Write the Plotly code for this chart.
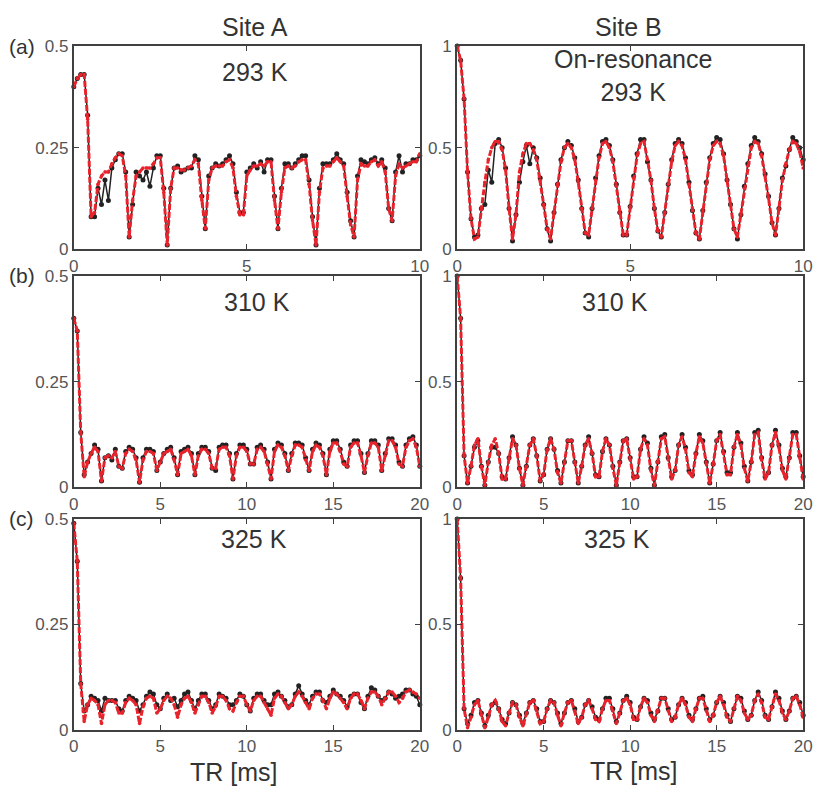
import plotly.graph_objects as go

# ---------------- data ----------------
tr_step_a = 0.1   # ms, row (a)
tr_step_bc = 0.2  # ms, rows (b), (c)

col_titles = ["Site A", "Site B"]
row_labels = ["(a)", "(b)", "(c)"]
temps_left = ["293 K", "310 K", "325 K"]
temps_right = ["On-resonance<br>293 K", "310 K", "325 K"]
x_title = "TR [ms]"

x_ticks_a = [0, 5, 10]
x_ticks_bc = [0, 5, 10, 15, 20]
y_ticks_A = [0, 0.25, 0.5]
y_ticktext_A = ["0", "0.25", "0.5"]
y_ticks_B = [0, 0.5, 1]
y_ticktext_B = ["0", "0.5", "1"]

A_a_meas = [0.40,0.42,0.43,0.43,0.33,0.08,0.08,0.15,0.11,0.17,
            0.12,0.20,0.22,0.235,0.235,0.19,0.03,0.11,0.19,0.18,
            0.17,0.19,0.155,0.20,0.23,0.23,0.15,0.01,0.15,0.20,
            0.205,0.19,0.195,0.20,0.20,0.23,0.22,0.13,0.05,0.18,
            0.20,0.21,0.205,0.21,0.22,0.23,0.21,0.14,0.09,0.09,
            0.19,0.20,0.21,0.20,0.215,0.19,0.22,0.22,0.13,0.05,
            0.15,0.21,0.21,0.20,0.21,0.22,0.23,0.23,0.17,0.08,
            0.01,0.15,0.21,0.21,0.21,0.22,0.235,0.22,0.21,0.14,
            0.07,0.03,0.18,0.22,0.215,0.21,0.22,0.225,0.21,0.22,
            0.20,0.10,0.07,0.19,0.23,0.19,0.21,0.21,0.22,0.22,
            0.23]
A_a_sim = [0.40,0.42,0.43,0.43,0.32,0.08,0.09,0.16,0.18,0.19,
           0.19,0.21,0.225,0.235,0.23,0.18,0.03,0.12,0.18,0.19,
           0.20,0.20,0.20,0.21,0.225,0.225,0.14,0.01,0.15,0.20,
           0.20,0.195,0.195,0.20,0.205,0.22,0.21,0.12,0.05,0.17,
           0.20,0.205,0.205,0.205,0.215,0.22,0.20,0.13,0.085,0.085,
           0.18,0.195,0.205,0.205,0.21,0.205,0.215,0.215,0.12,0.05,
           0.14,0.20,0.205,0.20,0.205,0.215,0.22,0.22,0.16,0.07,
           0.01,0.14,0.20,0.205,0.205,0.215,0.225,0.215,0.205,0.13,
           0.06,0.03,0.17,0.21,0.205,0.205,0.215,0.22,0.205,0.215,
           0.19,0.10,0.07,0.18,0.21,0.20,0.205,0.21,0.215,0.215,
           0.235]

B_a_meas = [1.00,0.93,0.74,0.38,0.15,0.06,0.07,0.20,0.22,0.39,
            0.33,0.52,0.54,0.50,0.40,0.20,0.04,0.17,0.33,0.43,
            0.51,0.42,0.50,0.45,0.35,0.22,0.10,0.04,0.18,0.32,
            0.44,0.50,0.53,0.51,0.45,0.34,0.20,0.08,0.06,0.20,
            0.35,0.46,0.53,0.54,0.51,0.44,0.32,0.18,0.07,0.07,
            0.21,0.36,0.47,0.54,0.54,0.43,0.34,0.20,0.09,0.06,
            0.18,0.32,0.44,0.52,0.54,0.52,0.45,0.33,0.19,0.08,
            0.05,0.19,0.33,0.45,0.52,0.55,0.54,0.47,0.34,0.22,
            0.10,0.05,0.17,0.31,0.42,0.51,0.55,0.53,0.47,0.37,
            0.26,0.13,0.07,0.20,0.35,0.41,0.49,0.55,0.53,0.50,
            0.44]
B_a_sim = [1.00,0.93,0.74,0.38,0.15,0.05,0.06,0.20,0.33,0.44,
           0.50,0.53,0.53,0.49,0.39,0.20,0.05,0.17,0.38,0.47,
           0.52,0.52,0.49,0.44,0.34,0.22,0.10,0.05,0.18,0.32,
           0.43,0.50,0.52,0.50,0.44,0.33,0.20,0.08,0.07,0.20,
           0.34,0.45,0.52,0.53,0.50,0.43,0.31,0.18,0.07,0.07,
           0.21,0.35,0.46,0.52,0.53,0.44,0.34,0.20,0.09,0.06,
           0.18,0.32,0.43,0.51,0.53,0.51,0.44,0.32,0.19,0.08,
           0.05,0.19,0.32,0.44,0.51,0.53,0.52,0.46,0.34,0.22,
           0.10,0.06,0.17,0.30,0.41,0.50,0.53,0.52,0.46,0.36,
           0.25,0.13,0.07,0.20,0.34,0.42,0.49,0.53,0.52,0.48,
           0.40]

A_b_meas = [0.40,0.37,0.13,0.03,0.06,0.08,0.10,0.09,0.015,0.07,
            0.075,0.065,0.09,0.05,0.045,0.085,0.095,0.09,0.07,0.012,
            0.07,0.09,0.09,0.085,0.04,0.06,0.08,0.09,0.095,0.07,
            0.03,0.085,0.09,0.095,0.08,0.03,0.08,0.095,0.095,0.085,
            0.045,0.04,0.095,0.10,0.10,0.08,0.02,0.08,0.10,0.10,
            0.09,0.055,0.055,0.095,0.10,0.09,0.06,0.02,0.09,0.105,
            0.10,0.08,0.04,0.08,0.105,0.105,0.10,0.07,0.04,0.09,
            0.105,0.10,0.08,0.03,0.09,0.11,0.11,0.09,0.06,0.05,
            0.10,0.11,0.11,0.08,0.035,0.08,0.11,0.11,0.10,0.04,
            0.08,0.115,0.115,0.10,0.06,0.05,0.10,0.115,0.12,0.10,
            0.05]
A_b_sim = [0.40,0.37,0.13,0.025,0.06,0.08,0.095,0.085,0.015,0.07,
           0.075,0.07,0.085,0.05,0.045,0.08,0.09,0.085,0.065,0.012,
           0.065,0.085,0.085,0.08,0.04,0.06,0.08,0.085,0.09,0.065,
           0.03,0.08,0.085,0.09,0.075,0.03,0.075,0.09,0.09,0.08,
           0.045,0.045,0.09,0.095,0.095,0.075,0.02,0.075,0.095,0.095,
           0.085,0.055,0.055,0.09,0.095,0.085,0.055,0.02,0.085,0.10,
           0.095,0.075,0.04,0.075,0.10,0.10,0.095,0.065,0.04,0.085,
           0.10,0.095,0.075,0.03,0.085,0.105,0.105,0.085,0.055,0.05,
           0.095,0.105,0.105,0.075,0.035,0.075,0.105,0.105,0.095,0.04,
           0.075,0.11,0.11,0.095,0.055,0.05,0.095,0.11,0.115,0.095,
           0.05]

B_b_meas = [1.00,0.80,0.15,0.02,0.10,0.19,0.22,0.10,0.01,0.12,
            0.19,0.19,0.16,0.05,0.04,0.14,0.24,0.20,0.09,0.01,
            0.10,0.20,0.23,0.15,0.03,0.06,0.18,0.23,0.18,0.08,
            0.02,0.12,0.22,0.22,0.12,0.02,0.10,0.20,0.24,0.16,
            0.06,0.05,0.17,0.23,0.20,0.10,0.01,0.12,0.22,0.23,
            0.14,0.05,0.05,0.18,0.24,0.21,0.09,0.01,0.12,0.24,
            0.25,0.14,0.05,0.08,0.20,0.25,0.19,0.08,0.06,0.16,
            0.25,0.22,0.12,0.02,0.11,0.22,0.26,0.17,0.07,0.07,
            0.19,0.26,0.21,0.10,0.03,0.12,0.26,0.27,0.14,0.05,
            0.07,0.20,0.27,0.20,0.09,0.05,0.14,0.26,0.26,0.15,
            0.05]
B_b_sim = [1.00,0.80,0.15,0.02,0.10,0.20,0.23,0.10,0.01,0.12,
           0.20,0.23,0.16,0.04,0.04,0.14,0.23,0.20,0.09,0.01,
           0.10,0.20,0.23,0.15,0.03,0.06,0.18,0.23,0.18,0.07,
           0.02,0.12,0.22,0.22,0.12,0.02,0.10,0.20,0.23,0.16,
           0.05,0.05,0.17,0.23,0.20,0.09,0.01,0.12,0.22,0.23,
           0.13,0.04,0.05,0.18,0.23,0.20,0.08,0.01,0.12,0.23,
           0.24,0.13,0.04,0.08,0.20,0.24,0.18,0.07,0.05,0.16,
           0.24,0.21,0.11,0.02,0.11,0.22,0.25,0.16,0.06,0.06,
           0.19,0.25,0.20,0.09,0.03,0.12,0.25,0.26,0.13,0.04,
           0.07,0.20,0.26,0.19,0.08,0.04,0.14,0.25,0.25,0.14,
           0.04]

A_c_meas = [0.49,0.40,0.11,0.045,0.06,0.08,0.075,0.07,0.045,0.075,
            0.07,0.07,0.07,0.05,0.045,0.07,0.08,0.075,0.07,0.045,
            0.06,0.08,0.09,0.085,0.06,0.05,0.075,0.085,0.07,0.075,
            0.055,0.07,0.085,0.09,0.07,0.05,0.07,0.085,0.085,0.07,
            0.05,0.06,0.085,0.08,0.075,0.06,0.06,0.07,0.085,0.08,
            0.06,0.045,0.075,0.085,0.085,0.07,0.06,0.06,0.085,0.09,
            0.08,0.07,0.055,0.06,0.085,0.105,0.085,0.07,0.06,0.08,
            0.09,0.09,0.07,0.065,0.08,0.095,0.085,0.08,0.07,0.055,
            0.08,0.085,0.085,0.065,0.05,0.08,0.10,0.095,0.08,0.07,
            0.075,0.09,0.085,0.075,0.08,0.085,0.095,0.095,0.085,0.08,
            0.06]
A_c_sim = [0.49,0.40,0.11,0.02,0.06,0.075,0.07,0.06,0.015,0.06,
           0.07,0.07,0.065,0.04,0.04,0.065,0.075,0.07,0.06,0.015,
           0.055,0.075,0.08,0.075,0.04,0.05,0.07,0.08,0.075,0.06,
           0.03,0.06,0.075,0.08,0.065,0.04,0.06,0.08,0.08,0.065,
           0.04,0.055,0.08,0.08,0.07,0.05,0.045,0.065,0.08,0.08,
           0.06,0.045,0.07,0.08,0.08,0.065,0.05,0.035,0.075,0.085,
           0.08,0.065,0.05,0.06,0.08,0.09,0.08,0.065,0.05,0.075,
           0.085,0.085,0.07,0.05,0.075,0.09,0.085,0.075,0.065,0.05,
           0.075,0.085,0.085,0.07,0.05,0.075,0.09,0.09,0.08,0.06,
           0.075,0.09,0.09,0.08,0.065,0.075,0.09,0.095,0.09,0.085,
           0.075]

B_c_meas = [1.00,0.72,0.10,0.03,0.07,0.13,0.14,0.08,0.02,0.07,
            0.12,0.13,0.10,0.05,0.03,0.08,0.13,0.12,0.07,0.03,
            0.08,0.13,0.14,0.10,0.04,0.04,0.10,0.14,0.13,0.08,
            0.03,0.08,0.13,0.14,0.10,0.04,0.06,0.12,0.14,0.11,
            0.06,0.05,0.10,0.15,0.15,0.10,0.04,0.08,0.14,0.16,
            0.13,0.06,0.05,0.11,0.15,0.14,0.08,0.05,0.09,0.15,
            0.15,0.10,0.05,0.06,0.12,0.15,0.13,0.07,0.05,0.10,
            0.15,0.16,0.10,0.05,0.07,0.13,0.16,0.13,0.07,0.04,
            0.10,0.16,0.15,0.09,0.05,0.07,0.14,0.18,0.14,0.07,
            0.05,0.11,0.18,0.15,0.09,0.05,0.09,0.15,0.16,0.13,
            0.07]
B_c_sim = [1.00,0.72,0.10,0.01,0.06,0.12,0.14,0.07,0.01,0.06,
           0.12,0.14,0.10,0.04,0.02,0.08,0.13,0.12,0.06,0.02,
           0.08,0.13,0.14,0.09,0.03,0.04,0.10,0.14,0.13,0.07,
           0.02,0.08,0.13,0.14,0.09,0.03,0.06,0.12,0.14,0.10,
           0.05,0.04,0.10,0.14,0.14,0.09,0.03,0.08,0.14,0.15,
           0.12,0.05,0.05,0.11,0.15,0.13,0.07,0.04,0.09,0.15,
           0.15,0.09,0.04,0.06,0.12,0.15,0.12,0.06,0.04,0.10,
           0.15,0.15,0.09,0.04,0.07,0.13,0.16,0.12,0.06,0.04,
           0.10,0.16,0.14,0.08,0.05,0.07,0.14,0.17,0.13,0.06,
           0.05,0.11,0.17,0.14,0.08,0.05,0.09,0.15,0.16,0.12,
           0.06]

# ---------------- layout helpers ----------------
W, H = 822, 799
def px(x):
    return x / W
def py(y):
    return 1 - y / H

FONT = "Liberation Sans, Arial, sans-serif"
AX_COL = "#404040"
TXT_COL = "#333333"
TICK_COL = "#555555"
BLACK = "#222222"
RED = "#e8232b"

col_x = [(70, 422), (460, 812)]
row_y = [(38, 246), (273.5, 490), (522.5, 738.5)]

panels = [
    # row, col, step, xmax, xticks, meas, sim, yticks, yticktext, ymax
    (0, 0, tr_step_a, 10, x_ticks_a, A_a_meas, A_a_sim, y_ticks_A, y_ticktext_A, 0.5),
    (0, 1, tr_step_a, 10, x_ticks_a, B_a_meas, B_a_sim, y_ticks_B, y_ticktext_B, 1.0),
    (1, 0, tr_step_bc, 20, x_ticks_bc, A_b_meas, A_b_sim, y_ticks_A, y_ticktext_A, 0.5),
    (1, 1, tr_step_bc, 20, x_ticks_bc, B_b_meas, B_b_sim, y_ticks_B, y_ticktext_B, 1.0),
    (2, 0, tr_step_bc, 20, x_ticks_bc, A_c_meas, A_c_sim, y_ticks_A, y_ticktext_A, 0.5),
    (2, 1, tr_step_bc, 20, x_ticks_bc, B_c_meas, B_c_sim, y_ticks_B, y_ticktext_B, 1.0),
]

fig = go.Figure()
layout_axes = {}
for i, (r, c, step, xmax, xt, meas, sim, yt, ytt, ymax) in enumerate(panels):
    n = i + 1
    xa = "x" if n == 1 else f"x{n}"
    ya = "y" if n == 1 else f"y{n}"
    xs_m = [round(k * step, 3) for k in range(len(meas))]
    xs_s = [round(k * step, 3) for k in range(len(sim))]
    fig.add_trace(go.Scatter(x=xs_m, y=meas, xaxis=xa, yaxis=ya, mode="lines+markers",
                             line=dict(color=BLACK, width=1.5),
                             marker=dict(color=BLACK, size=5),
                             cliponaxis=False, showlegend=False))
    fig.add_trace(go.Scatter(x=xs_s, y=sim, xaxis=xa, yaxis=ya, mode="lines+markers",
                             line=dict(color=RED, width=3, dash="6px,2px"),
                             marker=dict(color=RED, size=3.5),
                             cliponaxis=False, showlegend=False))
    x0, x1 = col_x[c]
    y0, y1 = row_y[r]
    common = dict(showline=True, linecolor=AX_COL, linewidth=2, mirror="ticks",
                  ticks="inside", ticklen=5, tickwidth=1.2, tickcolor=AX_COL,
                  showgrid=False, zeroline=False,
                  tickfont=dict(family=FONT, size=17, color=TICK_COL))
    xkey = "xaxis" if n == 1 else f"xaxis{n}"
    ykey = "yaxis" if n == 1 else f"yaxis{n}"
    layout_axes[xkey] = dict(domain=[px(x0), px(x1)], range=[0, xmax], anchor=ya,
                             tickvals=xt, ticktext=[str(v) for v in xt], **common)
    layout_axes[ykey] = dict(domain=[py(y1), py(y0)], range=[0, ymax], anchor=xa,
                             tickvals=yt, ticktext=ytt, **common)

fig.update_layout(width=W, height=H, margin=dict(l=0, r=0, t=0, b=0),
                  paper_bgcolor="white", plot_bgcolor="white",
                  font=dict(family=FONT, color=TXT_COL), **layout_axes)

def ann(text, x, y, size, color=TXT_COL):
    fig.add_annotation(text=text, x=px(x), y=py(y), xref="paper", yref="paper",
                       xanchor="center", yanchor="middle", showarrow=False,
                       font=dict(family=FONT, size=size, color=color))

ann(col_titles[0], 254, 18, 25)
ann(col_titles[1], 634, 18, 25)
for lbl, yy in zip(row_labels, [38, 273, 522]):
    ann(lbl, 17, yy, 21)
ann(temps_left[0], 254, 65, 25)
ann(temps_left[1], 256, 300, 25)
ann(temps_left[2], 253, 543, 25)
fig.add_annotation(text=temps_right[0], x=px(639), y=py(68), xref="paper", yref="paper",
                   xanchor="center", yanchor="middle", showarrow=False, align="center",
                   font=dict(family=FONT, size=25, color=TXT_COL))
ann(temps_right[1], 621, 300, 25)
ann(temps_right[2], 623, 543, 25)
ann(x_title, 233, 782, 25)
ann(x_title, 640, 781, 25)

fig.write_html("out.html")
